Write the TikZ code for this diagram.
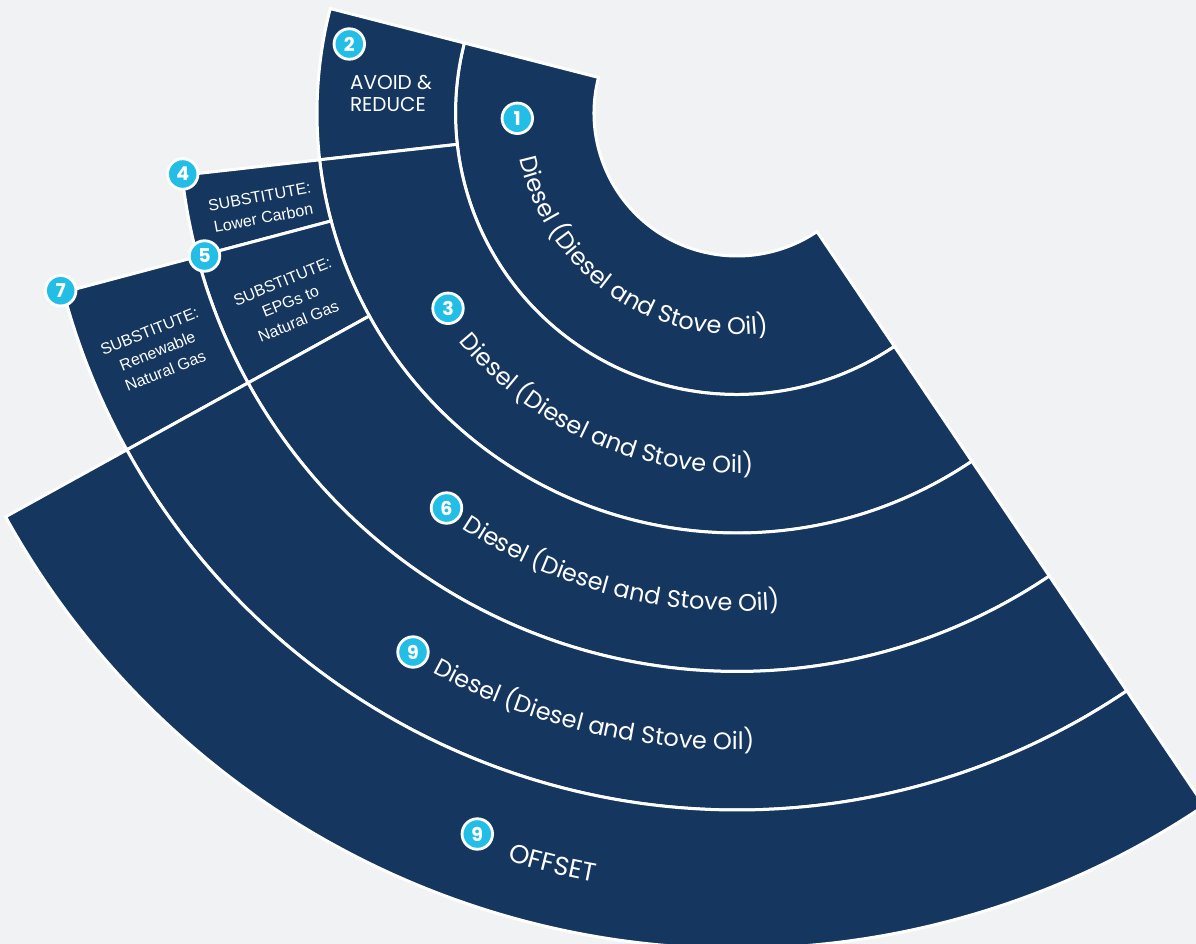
\documentclass[tikz,border=0pt]{standalone}
\usepackage{fontspec}
\setmainfont{Liberation Sans}
\newfontfamily\popfont{Poppins}
\usetikzlibrary{decorations.text}
\definecolor{navy}{HTML}{14365F}
\definecolor{bgc}{HTML}{F1F2F4}
\definecolor{cyanc}{HTML}{22BEE6}
\newcommand{\annsec}[4]{%
  \filldraw[sector] (#1:#3) arc[start angle=#1, end angle=#2, radius=#3]
    -- (#2:#4) arc[start angle=#2, end angle=#1, radius=#4] -- cycle;}
\newcommand{\arctext}[4]{%
  \path[decorate, decoration={text along path, text align=center,
    text={|\popfont\fontsize{#4}{#4}\selectfont\color{white}|#3}}]
    (#1-75:#2) arc[start angle=#1-75, end angle=#1+75, radius=#2];}
\begin{document}
\begin{tikzpicture}[x=1pt,y=1pt,
  sector/.style={fill=navy, draw=white, line width=3pt},
  num/.style={circle, fill=cyanc, draw=white, line width=2.8pt, minimum size=30.5pt,
    inner sep=0pt, text=white, font=\popfont\bfseries\fontsize{19}{19}\selectfont},
  sublabel/.style={text=white, align=center, font=\fontsize{16}{21.5}\selectfont},
  avlabel/.style={text=white, align=left, font=\popfont\fontsize{20}{22}\selectfont}]
\useasboundingbox (0,0) rectangle (1196,-944);
\fill[bgc] (0,0) rectangle (1196,-944);
\clip (0,0) rectangle (1196,-944);
\begin{scope}[shift={(737,-113)}]
  % sectors
  \annsec{165.6}{304}{143}{281.5}
  \annsec{165.6}{186.4}{281.5}{420}
  \annsec{186.4}{304}{281.5}{420}
  \annsec{186.4}{194.9}{420}{558.5}
  \annsec{194.9}{208.9}{420}{558.5}
  \annsec{208.9}{304}{420}{558.5}
  \annsec{194.9}{208.9}{558.5}{697}
  \annsec{208.9}{304}{558.5}{697}
  \annsec{208.9}{304}{697}{835.5}
  % curved texts
  \arctext{235}{222}{Diesel (Diesel and Stove Oil)}{24}
  \arctext{246}{360}{Diesel (Diesel and Stove Oil)}{24}
  \arctext{255.7}{498}{Diesel (Diesel and Stove Oil)}{24}
  \arctext{256.5}{637}{Diesel (Diesel and Stove Oil)}{24}
  \arctext{256.2}{782}{OFFSET}{26}
\end{scope}
% section labels
\node[avlabel] (avoid) at (391,-93.5) {AVOID \&\\REDUCE};
\node[sublabel, rotate=10.6] (lowc) at (261.5,-207.5) {SUBSTITUTE:\\Lower Carbon};
\node[sublabel, rotate=21.9] (epg) at (290.5,-301.5) {SUBSTITUTE:\\EPGs to\\Natural Gas};
\node[sublabel, rotate=21.9] (rng) at (157.5,-351) {SUBSTITUTE:\\Renewable\\Natural Gas};
% number badges
\node[num] (n1) at (517.3,-118.3) {1};
\node[num] (n2) at (349.3,-44) {2};
\node[num] (n3) at (448,-308.3) {3};
\node[num] (n4) at (182.7,-174) {4};
\node[num] (n5) at (204.5,-256) {5};
\node[num] (n6) at (446.5,-508) {6};
\node[num] (n7) at (60.7,-290.7) {7};
\node[num] (n9a) at (413,-652) {9};
\node[num] (n9b) at (477.3,-834) {9};
\end{tikzpicture}
\end{document}
